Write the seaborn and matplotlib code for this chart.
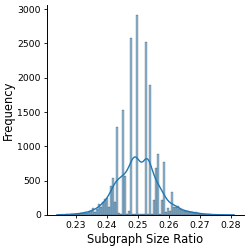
import numpy as np
import pandas as pd
import matplotlib
matplotlib.use("Agg")
import matplotlib.pyplot as plt
import seaborn as sns

# ---- data ----
bin_start = 0.22354
bin_width = 0.000649
counts = [
    3, 1, 2, 4, 3, 6, 5, 8, 10, 12,
    15, 20, 25, 22, 35, 30, 45, 60, 100, 40,
    80, 160, 110, 195, 230, 250, 120, 420, 545, 195,
    1280, 30, 20, 1530, 570, 15, 50, 2575, 10, 15,
    2915, 10, 20, 15, 2515, 10, 1895, 20, 210, 690,
    890, 20, 210, 770, 40, 100, 60, 340, 115, 110,
    130, 85, 70, 55, 60, 50, 45, 40, 30, 35,
    25, 20, 15, 12, 10, 8, 6, 5, 4, 3,
    3, 2, 2, 1, 1, 1, 0, 0, 1,
]
x_ticks = [0.23, 0.24, 0.25, 0.26, 0.27, 0.28]
y_ticks = [0, 500, 1000, 1500, 2000, 2500, 3000]
x_label = "Subgraph Size Ratio"
y_label = "Frequency"

# ---- build observations from per-bin counts ----
n_bins = len(counts)
edges = bin_start + bin_width * np.arange(n_bins + 1)
centers = (edges[:-1] + edges[1:]) / 2
values = np.repeat(centers, counts)
df = pd.DataFrame({"ratio": values})

plt.rcParams["font.family"] = ["DejaVu Sans"]
fig = plt.figure(figsize=(2.49, 2.49), dpi=100)
ax = fig.add_axes([0.189, 0.137, 0.791, 0.843])

sns.histplot(data=df, x="ratio", bins=edges, kde=True, ax=ax,
             kde_kws={"bw_adjust": 1.6},
             line_kws={"linewidth": 1.0})

ax.set_xticks(x_ticks)
ax.set_xticklabels([f"{t:.2f}" for t in x_ticks])
ax.set_yticks(y_ticks)
ax.set_xlabel(x_label, fontsize=8.3, labelpad=2)
ax.set_ylabel(y_label, fontsize=8.3, labelpad=2)
ax.tick_params(labelsize=6.7, length=2.5, width=0.6, pad=2)
for s in ax.spines.values():
    s.set_linewidth(0.7)
sns.despine(ax=ax)

fig.savefig("out.png", dpi=100)
